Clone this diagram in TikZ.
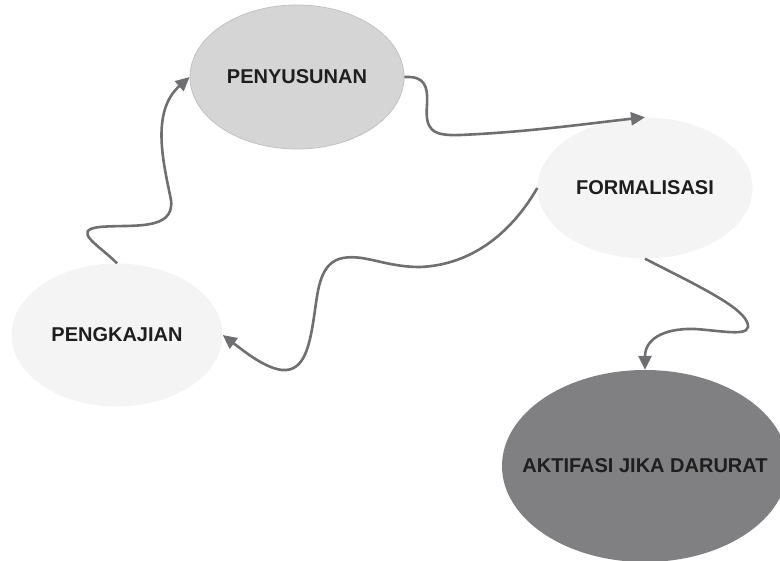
\documentclass[tikz,border=0pt]{standalone}
\usepackage{fontspec}
\setmainfont{Liberation Sans}
\usepackage{xcolor}
\usepackage{tikz}
\usetikzlibrary{shapes.geometric,arrows.meta}
\definecolor{lightfill}{HTML}{F4F4F4}
\definecolor{midfill}{HTML}{D5D5D6}
\definecolor{midedge}{HTML}{C2C2C4}
\definecolor{darkfill}{HTML}{808083}
\definecolor{flowgray}{HTML}{6F6F72}
\definecolor{labelgray}{HTML}{1E1E1E}
\tikzset{my stage/.style = {ellipse, inner sep=0pt, text=labelgray,
  font=\fontsize{20}{20}\selectfont\bfseries},
  my flow/.style = {draw=flowgray, line width=2.6pt,
  -{Triangle[length=14pt,width=13pt]}}}

\begin{document}
\begin{tikzpicture}[x=1pt,y=-1pt]
  \useasboundingbox (0,0) rectangle (780,561);
  \node[my stage, fill=midfill, draw=midedge, line width=0.8pt,
    minimum width=214pt, minimum height=144pt] (peny) at (297,77) {PENYUSUNAN};
  \node[my stage, fill=lightfill, minimum width=215pt, minimum height=141pt] (form) at (645,188) {FORMALISASI};
  \node[my stage, fill=lightfill, minimum width=211pt, minimum height=143pt] (peng) at (117,335) {PENGKAJIAN};
  \node[my stage, fill=darkfill, inner xsep=-40pt,
    minimum width=286pt, minimum height=192pt] (akt) at (645,466) {AKTIFASI JIKA DARURAT};
  \draw[my flow] (peng.north) .. controls (100,246) and (70,230) .. (100,227)
    .. controls (130,224) and (175,232) .. (171,200)
    .. controls (164,165) and (150,112) .. (peny.west);
  \draw[my flow] (peny.east) .. controls (425,76) and (428,86) .. (427,105)
    .. controls (425,130) and (432,136) .. (460,135)
    .. controls (530,132) and (592,123) .. (form.north);
  \draw[my flow] (form.west) .. controls (510,235) and (470,265) .. (420,267)
    .. controls (385,267) and (365,254) .. (343,258)
    .. controls (320,262) and (318,290) .. (315,310)
    .. controls (310,345) and (305,372) .. (282,370)
    .. controls (265,368) and (245,352) .. (peng.east);
  \draw[my flow] (form.south) .. controls (690,282) and (740,305) .. (747,322)
    .. controls (754,338) and (725,331) .. (695,329)
    .. controls (662,328) and (645,340) .. (akt.north);
\end{tikzpicture}
\end{document}
